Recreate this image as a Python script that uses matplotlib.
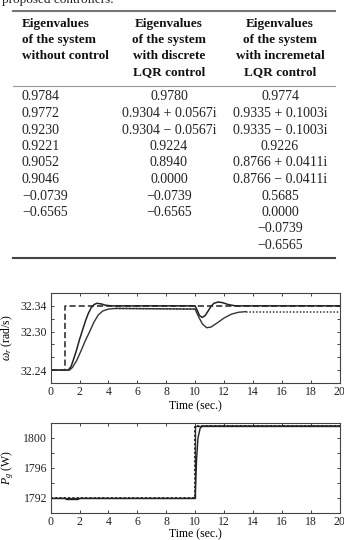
import numpy as np
import matplotlib
matplotlib.use("Agg")
import matplotlib.pyplot as plt
from matplotlib.lines import Line2D

plt.rcParams['font.family'] = ['Liberation Serif', 'DejaVu Serif']
plt.rcParams['mathtext.fontset'] = 'custom'
plt.rcParams['mathtext.rm'] = 'Liberation Serif'
plt.rcParams['mathtext.it'] = 'Liberation Serif:italic'

# ---- table data ----
headers = [
    ['Eigenvalues', 'of the system', 'without control'],
    ['Eigenvalues', 'of the system', 'with discrete', 'LQR control'],
    ['Eigenvalues', 'of the system', 'with incremetal', 'LQR control'],
]
eig_no_control = ['0.9784', '0.9772', '0.9230', '0.9221', '0.9052', '0.9046',
                  '\u22120.0739', '\u22120.6565']
eig_discrete = ['0.9780', '0.9304 + 0.0567i', '0.9304 \u2212 0.0567i', '0.9224',
                '0.8940', '0.0000', '\u22120.0739', '\u22120.6565']
eig_incremental = ['0.9774', '0.9335 + 0.1003i', '0.9335 \u2212 0.1003i', '0.9226',
                   '0.8766 + 0.0411i', '0.8766 \u2212 0.0411i', '0.5685', '0.0000',
                   '\u22120.0739', '\u22120.6565']

# ---- rotor speed (rad/s) ----
t_ref = [0, 1, 1, 20]
w_ref = [32.24, 32.24, 32.34, 32.34]

t_a = [0, 1.2, 1.4, 1.6, 1.8, 2.0, 2.2, 2.4, 2.6, 2.8, 3.0, 3.2, 3.5, 3.8, 4.2,
       10.0, 10.15, 10.3, 10.5, 10.7, 10.9, 11.1, 11.3, 11.6, 11.9, 12.3, 12.8, 13.5, 20]
w_a = [32.24, 32.24, 32.245, 32.258, 32.272, 32.288, 32.302, 32.316, 32.328, 32.337,
       32.342, 32.344, 32.343, 32.341, 32.340,
       32.340, 32.333, 32.325, 32.322, 32.325, 32.332, 32.339, 32.344, 32.346, 32.345,
       32.342, 32.340, 32.340, 32.340]

t_b = [0, 1.3, 1.5, 1.8, 2.1, 2.4, 2.7, 3.0, 3.3, 3.6, 4.0, 4.5,
       10.0, 10.2, 10.5, 10.8, 11.1, 11.5, 12.0, 12.5, 13.0, 13.5, 20]
w_b = [32.24, 32.24, 32.244, 32.255, 32.270, 32.286, 32.300, 32.315, 32.326, 32.332,
       32.335, 32.336,
       32.335, 32.325, 32.312, 32.306, 32.307, 32.313, 32.321, 32.327, 32.330, 32.331, 32.331]

# ---- generator power (W) ----
t_p1 = [0, 10, 10, 20]
p1 = [1791.95, 1791.95, 1801.6, 1801.6]
t_p2 = [0, 1.0, 1.1, 1.9, 2.0, 10.0, 10.1, 10.2, 10.35, 10.5, 20]
p2 = [1791.95, 1791.95, 1791.8, 1791.8, 1791.95, 1791.95, 1797.0, 1800.0, 1801.3, 1801.6, 1801.6]

W, H = 344, 540
fig = plt.figure(figsize=(W / 100, H / 100), dpi=100)


def fx(x):
    return x / W


def fy(y):
    return 1 - y / H


# ---- table ----
fig.text(fx(2), fy(0), 'proposed controllers.', fontsize=9.5, va='center', color='#222')
fig.add_artist(Line2D([fx(13), fx(335)], [fy(11), fy(11)], color='#777', lw=1.5))
fig.add_artist(Line2D([fx(13), fx(335)], [fy(86), fy(86)], color='#999', lw=0.8))
fig.add_artist(Line2D([fx(13), fx(335)], [fy(258), fy(258)], color='#444', lw=1.5))

col_x = [22, 169, 280]
col_ha = ['left', 'center', 'center']
for j, hdr in enumerate(headers):
    for i, s in enumerate(hdr):
        fig.text(fx(col_x[j]), fy(24 + 16 * i), s, fontsize=9.5, fontweight='bold',
                 ha=col_ha[j], va='center', color='#111')

row_y0, row_dy = 97, 16.5
for j, col in enumerate([eig_no_control, eig_discrete, eig_incremental]):
    for i, s in enumerate(col):
        fig.text(fx(col_x[j]), fy(row_y0 + row_dy * i), s, fontsize=10,
                 ha=col_ha[j], va='center', color='#222')


def style_axes(ax, pad):
    for sp in ax.spines.values():
        sp.set_color('#444')
        sp.set_linewidth(0.8)
    ax.tick_params(direction='in', length=2.5, width=0.6, top=True, right=True,
                   labelsize=8.5, pad=2.5, colors='#222')
    ax.set_xlim(0, 20)
    ax.set_xticks(range(0, 21, 2))
    ax.set_xlabel('Time (sec.)', fontsize=8.5, labelpad=pad)


dots = (0, (1, 1.2))

# ---- rotor speed plot ----
ax1 = fig.add_axes([fx(50.7), fy(383), fx(339.5) - fx(50.7), fy(293) - fy(383)])
ax1.plot(t_ref, w_ref, color='#222', lw=1.1, ls=(0, (4, 2)))
ax1.plot(t_a, w_a, color='#222', lw=1.1)
tb = np.array(t_b)
wb = np.array(w_b)
solid = (tb <= 4.5) | ((tb >= 10) & (tb <= 13.5))
ax1.plot(tb, np.where(solid, wb, np.nan), color='#333', lw=1.0)
ax1.plot(tb[tb >= 4.5][:2], wb[tb >= 4.5][:2], color='#333', lw=1.1, ls=dots)
ax1.plot(tb[tb >= 13.5], wb[tb >= 13.5], color='#333', lw=1.1, ls=dots)
ax1.set_ylim(32.22, 32.36)
yt = [32.24, 32.26, 32.28, 32.30, 32.32, 32.34]
ax1.set_yticks(yt)
ax1.set_yticklabels(['32.24', '', '', '32.30', '', '32.34'])
style_axes(ax1, 1.5)
ax1.set_ylabel(r'$\omega_r$ (rad/s)', fontsize=8.5)
ax1.yaxis.set_label_coords(-0.125, 0.5)

# ---- generator power plot ----
ax2 = fig.add_axes([fx(50.7), fy(513), fx(339.5) - fx(50.7), fy(423) - fy(513)])
ax2.plot(t_p1, p1, color='#333', lw=1.0)
ax2.plot(t_p2, p2, color='#222', lw=1.0)
ax2.plot(t_p1, p1, color='#222', lw=1.4, ls=dots)
ax2.set_ylim(1790, 1802)
ax2.set_yticks([1792, 1794, 1796, 1798, 1800])
ax2.set_yticklabels(['1792', '', '1796', '', '1800'])
style_axes(ax2, 0)
ax2.set_ylabel(r'$P_g$ (W)', fontsize=8.5)
ax2.yaxis.set_label_coords(-0.12, 0.5)

fig.savefig('out.png', dpi=100)
